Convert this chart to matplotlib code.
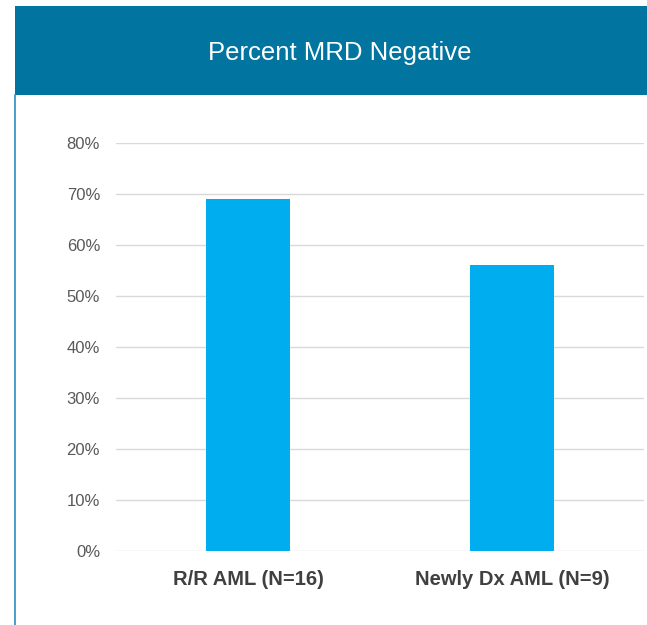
import matplotlib
matplotlib.use("Agg")
import matplotlib.pyplot as plt
from matplotlib.patches import Rectangle
from matplotlib.lines import Line2D
from matplotlib.ticker import FuncFormatter, MultipleLocator

categories = ["R/R AML (N=16)", "Newly Dx AML (N=9)"]
mrd_negative_pct = [69, 56]
title = "Percent MRD Negative"

W, H = 647, 625
fig = plt.figure(figsize=(W / 100, H / 100), dpi=100)
fig.patch.set_facecolor("white")
plt.rcParams["font.family"] = ["Liberation Sans", "DejaVu Sans"]

# header banner
fig.patches.append(Rectangle((15 / W, 1 - 95 / H), 1 - 15 / W, 89 / H,
                             transform=fig.transFigure, facecolor="#01759f",
                             edgecolor="none", zorder=0))
fig.text(340 / W, 1 - 53 / H, title, color="white", fontsize=18.5,
         ha="center", va="center")
# left frame border
fig.lines.append(Line2D([15.5 / W, 15.5 / W], [0, 1 - 95 / H],
                        transform=fig.transFigure, color="#2a8fc4", lw=1.2))

ax = fig.add_axes([116 / W, 1 - 551 / H, (644 - 116) / W, (551 - 143) / H])
x = range(len(categories))
ax.bar(x, mrd_negative_pct, width=0.315, color="#00aeef", zorder=3)
ax.set_xlim(-0.5, 1.5)
ax.set_ylim(0, 80)
ax.yaxis.set_major_locator(MultipleLocator(10))
ax.yaxis.set_major_formatter(FuncFormatter(lambda v, p: f"{v:.0f}%"))
ax.set_xticks(list(x))
ax.set_xticklabels(categories, fontsize=14.5, fontweight="bold", color="#404040")
ax.tick_params(axis="y", length=0, pad=11.5, labelsize=12, labelcolor="#595959")
ax.tick_params(axis="x", length=0, pad=14)
ax.grid(axis="y", color="#d9d9d9", lw=1, zorder=0)
ax.set_axisbelow(True)
for s in ax.spines.values():
    s.set_visible(False)

fig.savefig("out.png", dpi=100)
